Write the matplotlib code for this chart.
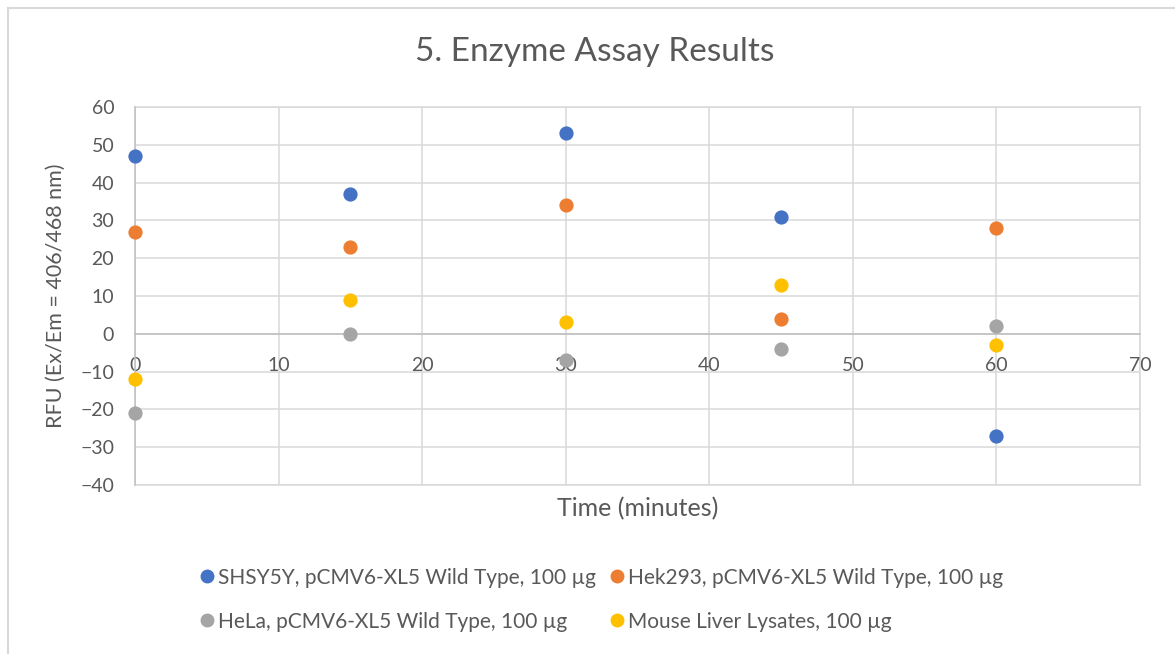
import matplotlib
matplotlib.use("Agg")
import matplotlib.pyplot as plt
from matplotlib.lines import Line2D

# Sampling times (minutes)
time_min = [0, 15, 30, 45, 60]

# RFU readings per sample
shsy5y = [47, 37, 53, 31, -27]
hek293 = [27, 23, 34, 4, 28]
hela = [-21, 0, -7, -4, 2]
mouse_liver = [-12, 9, 3, 13, -3]

series_labels = [
    "SHSY5Y, pCMV6-XL5 Wild Type, 100 µg",
    "Hek293, pCMV6-XL5 Wild Type, 100 µg",
    "HeLa, pCMV6-XL5 Wild Type, 100 µg",
    "Mouse Liver Lysates, 100 µg",
]
series_values = [shsy5y, hek293, hela, mouse_liver]
series_colors = ["#4472C4", "#ED7D31", "#A5A5A5", "#FFC000"]

x_ticks = list(range(0, 71, 10))
y_ticks = list(range(-40, 61, 10))

text_color = "#595959"
plt.rcParams["font.family"] = ["Lato", "DejaVu Sans"]

fig = plt.figure(figsize=(11.75, 6.54), dpi=100)
ax = fig.add_axes([0.1149, 0.2584, 0.8553, 0.578])

handles = []
for vals, col, lab in zip(series_values, series_colors, series_labels):
    ax.scatter(time_min, vals, s=105, color=col, zorder=3, clip_on=False, linewidths=0)
    handles.append(Line2D([], [], marker="o", linestyle="none", markersize=9,
                          markerfacecolor=col, markeredgecolor=col, label=lab))

ax.set_xlim(0, 70)
ax.set_ylim(-40, 60)
ax.set_xticks(x_ticks)
ax.set_yticks(y_ticks)
ax.grid(True, color="#d9d9d9", linewidth=1.1, zorder=0)
ax.set_axisbelow(True)

for side in ["top", "right"]:
    ax.spines[side].set_visible(False)
ax.spines["bottom"].set_position(("data", 0))
ax.spines["bottom"].set_color("#bfbfbf")
ax.spines["bottom"].set_linewidth(1.1)
ax.spines["left"].set_color("#bfbfbf")
ax.spines["left"].set_linewidth(1.1)
# frame lines along the plot-area edges
ax.axhline(-40, color="#d9d9d9", linewidth=1.1, zorder=0, clip_on=False)
ax.axhline(60, color="#d9d9d9", linewidth=1.1, zorder=0, clip_on=False)
ax.axvline(70, color="#d9d9d9", linewidth=1.1, zorder=0, clip_on=False)

ax.tick_params(axis="both", length=0, labelsize=14, colors=text_color)
ax.tick_params(axis="x", pad=17)
ax.tick_params(axis="y", pad=15)

ax.set_xlabel("Time (minutes)", fontsize=18, color=text_color)
ax.xaxis.set_label_coords(0.5, -0.032)
ax.set_ylabel("RFU (Ex/Em = 406/468 nm)", fontsize=15.5, color=text_color)
ax.yaxis.set_label_coords(-0.069, 0.5)

fig.text(0.506, 0.92, "5. Enzyme Assay Results", ha="center", va="center",
         fontsize=24, color=text_color)

order = [0, 2, 1, 3]
fig.legend([handles[i] for i in order], [series_labels[i] for i in order],
           ncol=2, loc="center", bbox_to_anchor=(0.511, 0.083), frameon=False,
           fontsize=15, labelcolor=text_color, handletextpad=0.05,
           columnspacing=0.6, labelspacing=1.15, handlelength=0.9)

# chart-area border
fig.add_artist(Line2D([8 / 1175, 8 / 1175], [0, 1 - 8 / 654], transform=fig.transFigure,
                      color="#d9d9d9", linewidth=1.5))
fig.add_artist(Line2D([8 / 1175, 1], [1 - 8 / 654, 1 - 8 / 654], transform=fig.transFigure,
                      color="#d9d9d9", linewidth=1.5))

fig.savefig("out.png", dpi=100, facecolor="white")
